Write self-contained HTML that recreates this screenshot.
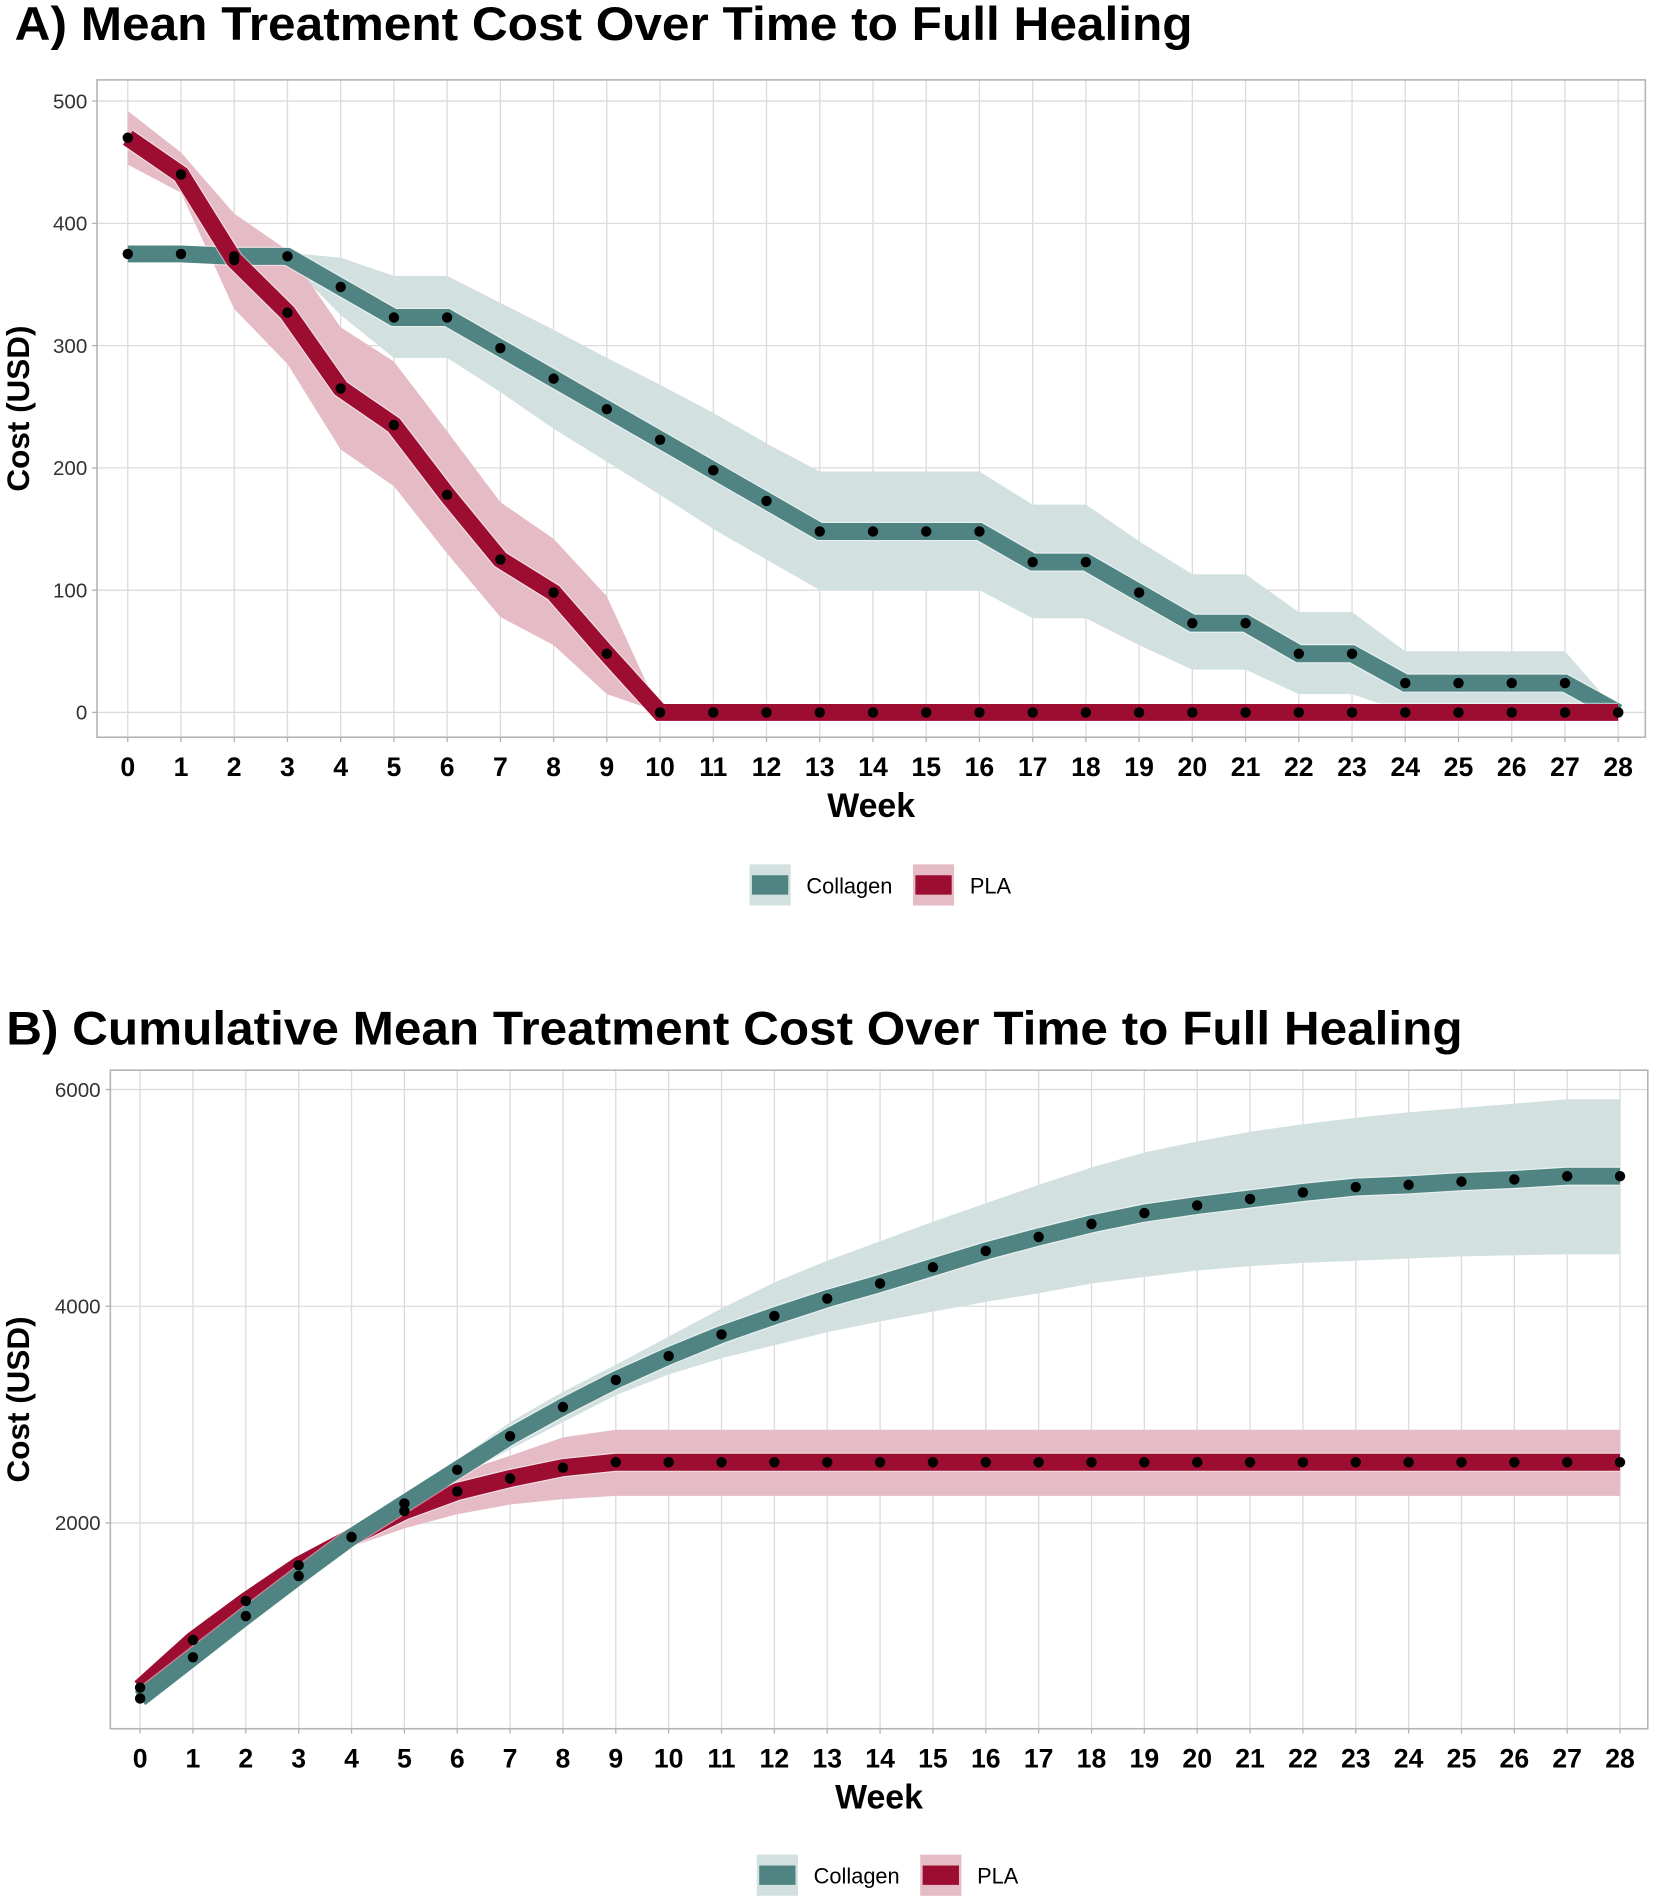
<!DOCTYPE html>
<html><head><meta charset="utf-8"><style>
html,body{margin:0;padding:0;background:#fff;}
svg{display:block;font-family:"Liberation Sans",Arial,sans-serif;}
</style></head><body>
<svg id="chart" width="1654" height="1897" viewBox="0 0 1366 1567" xmlns="http://www.w3.org/2000/svg"></svg>
<script>
const weeks = [0,1,2,3,4,5,6,7,8,9,10,11,12,13,14,15,16,17,18,19,20,21,22,23,24,25,26,27,28];
const aCollagen = [375,375,373,373,348,323,323,298,273,248,223,198,173,148,148,148,148,123,123,98,73,73,48,48,24,24,24,24,0];
const aCollagenHi = [378,378,377,376,372,357,357,335,313,290,268,245,220,197,197,197,197,170,170,140,113,113,82,82,50,50,50,50,0];
const aCollagenLo = [370,370,369,369,325,290,290,262,232,205,178,150,125,100,100,100,100,77,77,55,35,35,15,15,0,0,0,0,0];
const aPLA = [470,440,370,327,265,235,178,125,98,48,0,0,0,0,0,0,0,0,0,0,0,0,0,0,0,0,0,0,0];
const aPLAHi = [492,458,408,378,315,287,230,172,142,95,0,0,0,0,0,0,0,0,0,0,0,0,0,0,0,0,0,0,0];
const aPLALo = [448,425,330,285,215,185,130,78,55,15,0,0,0,0,0,0,0,0,0,0,0,0,0,0,0,0,0,0,0];
const aTicks = [0,100,200,300,400,500];
const bCollagen = [380,760,1140,1510,1870,2180,2490,2800,3070,3320,3540,3740,3910,4070,4210,4360,4510,4640,4760,4860,4930,4990,5050,5100,5120,5150,5170,5200,5200];
const bCollagenHi = [400,780,1160,1540,1900,2230,2580,2930,3210,3460,3720,3980,4220,4420,4600,4780,4950,5120,5280,5420,5520,5610,5680,5740,5790,5830,5870,5910,5910];
const bCollagenLo = [360,740,1120,1490,1840,2130,2410,2680,2930,3180,3370,3520,3640,3760,3860,3950,4040,4120,4210,4270,4330,4370,4400,4420,4440,4460,4470,4480,4480];
const bPLA = [480,920,1280,1610,1870,2110,2290,2410,2510,2560,2560,2560,2560,2560,2560,2560,2560,2560,2560,2560,2560,2560,2560,2560,2560,2560,2560,2560,2560];
const bPLAHi = [510,960,1340,1680,1960,2270,2460,2620,2790,2860,2860,2860,2860,2860,2860,2860,2860,2860,2860,2860,2860,2860,2860,2860,2860,2860,2860,2860,2860];
const bPLALo = [450,880,1230,1540,1780,1950,2080,2170,2220,2250,2250,2250,2250,2250,2250,2250,2250,2250,2250,2250,2250,2250,2250,2250,2250,2250,2250,2250,2250];
const bTicks = [2000,4000,6000];

const NS = "http://www.w3.org/2000/svg";
const svg = document.getElementById('chart');
function mk(tag, attrs, parent, text){
  const e = document.createElementNS(NS, tag);
  for (const k in attrs) e.setAttribute(k, attrs[k]);
  if (text !== undefined) e.textContent = text;
  (parent || svg).appendChild(e);
  return e;
}
const TEAL = '#4f8482', TEALBAND = '#d2e1e0', RED = '#9c0d31', REDBAND = '#e5bcc6';

function panel(cfg){
  const g = mk('g', {});
  
  
  const xs = w => cfg.x0 + w * cfg.step;
  const ys = v => cfg.yZero - v * cfg.yScale;
  const t = mk('text', {x: cfg.titleX, y: cfg.titleY, 'font-size': 39, 'font-weight': 'bold', fill: '#000', textLength: cfg.titleLen, lengthAdjust: 'spacingAndGlyphs'}, g, cfg.title);
  
  
  const grid = mk('g', {stroke: '#dcdcdc', 'stroke-width': 1.1}, g);
  
  
  weeks.forEach(w => mk('line', {x1: xs(w), x2: xs(w), y1: cfg.top, y2: cfg.bottom}, grid));
  cfg.ticks.forEach(v => mk('line', {x1: cfg.left, x2: cfg.right, y1: ys(v), y2: ys(v)}, grid));
  function band(hi, lo, color, name){
    let d = 'M' + weeks.map((w,i) => xs(w) + ',' + ys(hi[i])).join('L');
    d += 'L' + weeks.slice().reverse().map(w => xs(w) + ',' + ys(lo[w])).join('L') + 'Z';
    const p = mk('path', {d: d, fill: color, stroke: 'none'}, g);
    
    
  }
  function line(vals, color, name){
    const d = 'M' + weeks.map((w,i) => xs(w) + ',' + ys(vals[i])).join('L');
    mk('path', {d: d, fill: 'none', stroke: '#ffffff', 'stroke-opacity': 0.5, 'stroke-width': 16, 'stroke-linejoin': 'miter'}, g);
    const p = mk('path', {d: d, fill: 'none', stroke: color, 'stroke-width': 14, 'stroke-linejoin': 'miter'}, g);
    
    
  }
  function points(vals, name){
    weeks.forEach((w,i) => {
      const c = mk('circle', {cx: xs(w), cy: ys(vals[i]), r: 4.3, fill: '#000'}, g);
      
      
    });
  }
  band(cfg.cHi, cfg.cLo, TEALBAND, 'collagen-ci-band');
  band(cfg.pHi, cfg.pLo, REDBAND, 'pla-ci-band');
  if (cfg.redOnTop){
    line(cfg.c, TEAL, 'collagen-line'); line(cfg.p, RED, 'pla-line');
  } else {
    line(cfg.p, RED, 'pla-line'); line(cfg.c, TEAL, 'collagen-line');
  }
  points(cfg.c, 'collagen-point');
  points(cfg.p, 'pla-point');
  const b = mk('rect', {x: cfg.left, y: cfg.top, width: cfg.right - cfg.left, height: cfg.bottom - cfg.top, fill: 'none', stroke: '#b3b3b3', 'stroke-width': 1.3}, g);
  
  
  cfg.ticks.forEach(v => {
    mk('line', {x1: cfg.left - 4, x2: cfg.left, y1: ys(v), y2: ys(v), stroke: '#b3b3b3', 'stroke-width': 1.1}, g);
    const tl = mk('text', {x: cfg.left - 8, y: ys(v) + 6, 'font-size': 17, fill: '#333', 'text-anchor': 'end'}, g, String(v));
    
    
  });
  weeks.forEach(w => {
    mk('line', {x1: xs(w), x2: xs(w), y1: cfg.bottom, y2: cfg.bottom + 4, stroke: '#b3b3b3', 'stroke-width': 1.1}, g);
    const tl = mk('text', {x: xs(w), y: cfg.bottom + 32, 'font-size': 22, 'font-weight': 'bold', fill: '#000', 'text-anchor': 'middle'}, g, String(w));
    
    
  });
  const xt = mk('text', {x: (cfg.left + cfg.right) / 2, y: cfg.bottom + 66, 'font-size': 28, 'font-weight': 'bold', fill: '#000', 'text-anchor': 'middle'}, g, 'Week');
  
  
  const cy = (cfg.top + cfg.bottom) / 2;
  const yt = mk('text', {x: 0, y: 0, transform: 'translate(' + cfg.yTitleX + ',' + cy + ') rotate(-90)', 'font-size': 26, 'font-weight': 'bold', fill: '#000', 'text-anchor': 'middle'}, g, 'Cost (USD)');
  
  
  const lg = mk('g', {}, g);
  
  
  const entries = [[cfg.legX, TEALBAND, TEAL, 'Collagen'], [cfg.legX + 135, REDBAND, RED, 'PLA']];
  entries.forEach(([x, bc, lc, label]) => {
    const e = mk('g', {}, lg);
    
    
    mk('rect', {x: x, y: cfg.legY - 17, width: 34, height: 34, fill: bc}, e);
    mk('rect', {x: x + 2, y: cfg.legY - 8, width: 30, height: 16, fill: lc}, e);
    mk('text', {x: x + 47, y: cfg.legY + 7, 'font-size': 18, fill: '#000'}, e, label);
  });
}

panel({name: 'panel-a-mean-cost', title: 'A) Mean Treatment Cost Over Time to Full Healing', titleX: 12, titleY: 33, titleLen: 973,
  left: 80, right: 1359, top: 66, bottom: 609, x0: 105.4, step: 43.97, yZero: 588.5, yScale: 1.01,
  ticks: aTicks, c: aCollagen, cHi: aCollagenHi, cLo: aCollagenLo, p: aPLA, pHi: aPLAHi, pLo: aPLALo,
  redOnTop: true, yTitleX: 24, legX: 619, legY: 731});
panel({name: 'panel-b-cumulative-cost', title: 'B) Cumulative Mean Treatment Cost Over Time to Full Healing', titleX: 5, titleY: 863, titleLen: 1203,
  left: 91, right: 1361, top: 884, bottom: 1428, x0: 115.6, step: 43.66, yZero: 1437, yScale: 0.0895,
  ticks: bTicks, c: bCollagen, cHi: bCollagenHi, cLo: bCollagenLo, p: bPLA, pHi: bPLAHi, pLo: bPLALo,
  redOnTop: false, yTitleX: 24, legX: 625, legY: 1549});
</script>
</body></html>
